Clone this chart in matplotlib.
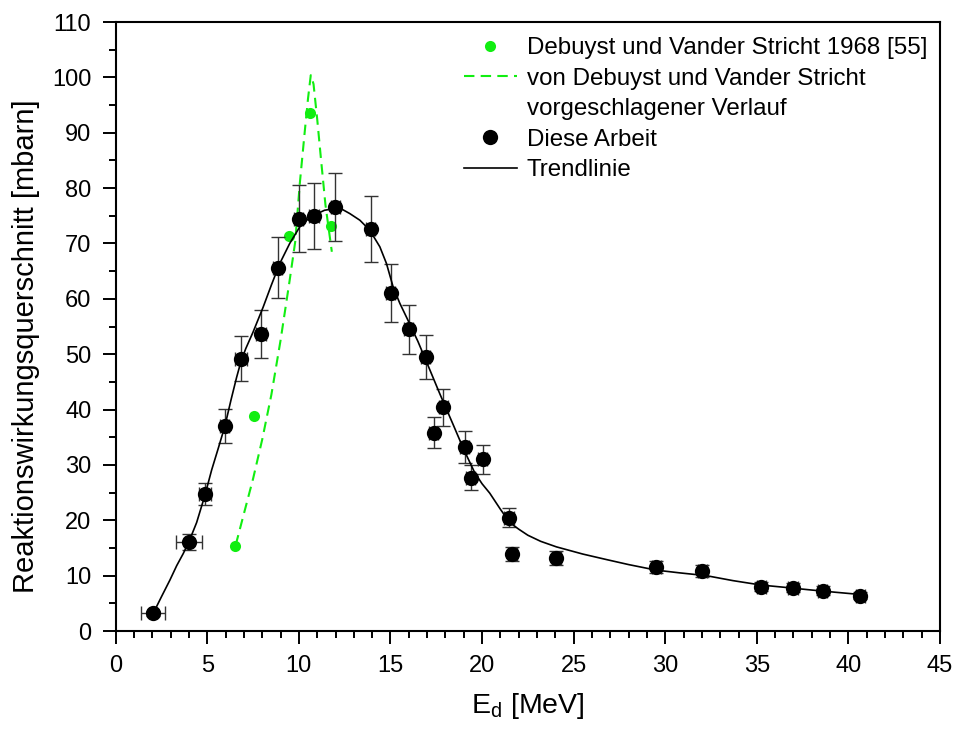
import matplotlib
matplotlib.use("Agg")
import matplotlib.pyplot as plt
from matplotlib.ticker import MultipleLocator
from matplotlib.lines import Line2D

plt.rcParams['font.family'] = ['Liberation Sans', 'DejaVu Sans']

# --- Data: this work (Diese Arbeit) ---
e_this = [2.05, 4.02, 4.87, 5.96, 6.84, 7.93, 8.84, 10.0, 10.83, 11.98, 13.93,
          15.02, 16.0, 16.93, 17.89, 17.35, 19.06, 20.04, 19.37, 21.47, 21.66,
          24.06, 29.51, 32.02, 35.24, 36.97, 38.6, 40.64]
sigma_this = [3.2, 16.1, 24.7, 37.0, 49.2, 53.7, 65.6, 74.5, 75.0, 76.6, 72.6,
              61.1, 54.5, 49.5, 40.4, 35.8, 33.3, 31.0, 27.7, 20.5, 13.9,
              13.2, 11.6, 10.8, 8.0, 7.8, 7.3, 6.4]
sigma_err = [0.4, 1.4, 2.0, 3.1, 4.0, 4.3, 5.5, 6.0, 6.0, 6.2, 5.9,
             5.2, 4.4, 3.9, 3.4, 2.8, 2.9, 2.6, 2.3, 1.7, 1.3,
             1.2, 1.1, 1.1, 0.8, 0.8, 0.8, 0.7]
e_err = [0.66, 0.7, 0.33, 0.25, 0.33, 0.25, 0.25, 0.25, 0.25, 0.25, 0.25,
         0.25, 0.25, 0.25, 0.25, 0.25, 0.25, 0.25, 0.25, 0.25, 0.25,
         0.25, 0.25, 0.25, 0.25, 0.25, 0.25, 0.25]

# --- Trendline ---
e_trend = [2.05, 2.5, 2.96, 3.33, 3.69, 4.02, 4.42, 4.87, 5.24, 5.6, 5.96, 6.3,
           6.6, 6.84, 7.1, 7.5, 8.05, 8.5, 8.96, 9.5, 10.05, 10.5, 10.88, 11.4,
           11.96, 12.4, 12.78, 13.33, 13.87, 14.42, 14.78, 15.15, 15.51, 15.96,
           16.5, 16.97, 17.7, 18.42, 19.0, 19.6, 20.0, 20.42, 21.0, 21.51, 22.0,
           22.5, 23.2, 24.06, 25.5, 26.8, 28.0, 29.5, 30.8, 32.24, 33.7, 35.24,
           36.5, 38.0, 39.3, 40.64]
sigma_trend = [3.2, 6.2, 9.2, 11.8, 14.0, 16.3, 19.6, 24.5, 29.1, 33.0, 37.0, 41.8,
               45.8, 48.7, 51.0, 54.0, 58.5, 62.5, 66.4, 70.0, 73.0, 74.4, 75.2, 76.0,
               76.3, 76.1, 75.4, 74.2, 72.4, 69.4, 66.4, 62.1, 59.2, 56.1,
               52.3, 48.6, 42.8, 37.3, 32.8, 28.6, 26.6, 24.9, 22.0, 19.6, 18.4,
               17.3, 16.2, 15.2, 13.9, 12.9, 12.0, 11.0, 10.5, 10.0, 9.1, 8.3,
               7.9, 7.4, 7.0, 6.6]

# --- Debuyst und Vander Stricht 1968 ---
e_deb = [6.52, 7.53, 9.45, 10.6, 11.75]
sigma_deb = [15.3, 38.9, 71.3, 93.5, 73.1]

# --- proposed curve (Debuyst und Vander Stricht) ---
e_prop = [6.55, 7.0, 7.5, 8.0, 8.5, 9.0, 9.5, 9.8, 10.05, 10.3, 10.5, 10.65,
          10.8, 11.0, 11.2, 11.45, 11.8]
sigma_prop = [15.5, 21.2, 27.5, 34.6, 42.7, 52.5, 63.4, 70.3, 80.8, 89.5, 96.2, 100.4,
              98.8, 92.5, 85.5, 77.0, 68.5]

legend_labels = ['Debuyst und Vander Stricht 1968 [55]',
                 'von Debuyst und Vander Stricht',
                 'vorgeschlagener Verlauf',
                 'Diese Arbeit',
                 'Trendlinie']

green = '#11ee11'

fig = plt.figure(figsize=(9.56, 7.29), dpi=100)
ax = fig.add_axes([0.121, 0.1344, 0.8623, 0.8354])

l_prop, = ax.plot(e_prop, sigma_prop, color=green, lw=1.5, dashes=(5, 3), zorder=2)
l_deb, = ax.plot(e_deb, sigma_deb, 'o', color=green, ms=8, mec='none', zorder=3)

ax.errorbar(e_this, sigma_this, yerr=sigma_err, xerr=e_err, fmt='none',
            ecolor='#333333', elinewidth=1.0, capsize=4.8, capthick=1.0, zorder=4)
l_trend, = ax.plot(e_trend, sigma_trend, '-', color='black', lw=1.2, zorder=5)
l_this, = ax.plot(e_this, sigma_this, 'o', color='black', ms=11, mec='none', zorder=6)

ax.set_xlim(0, 45)
ax.set_ylim(0, 110)
ax.xaxis.set_major_locator(MultipleLocator(5))
ax.xaxis.set_minor_locator(MultipleLocator(1))
ax.yaxis.set_major_locator(MultipleLocator(10))
ax.yaxis.set_minor_locator(MultipleLocator(5))
ax.tick_params(which='major', direction='out', length=9.5, width=1.4, labelsize=17, pad=8)
ax.tick_params(which='minor', direction='out', length=5, width=1.4)
for s in ax.spines.values():
    s.set_linewidth(1.5)

ax.set_xlabel('E$_\\mathregular{d}$ [MeV]', fontsize=20.5, labelpad=10)
ax.set_ylabel('Reaktionswirkungsquerschnitt [mbarn]', fontsize=21)
ax.yaxis.set_label_coords(-0.092, 0.468)

blank = Line2D([], [], linestyle='none', marker=None)
ax.legend([l_deb, l_prop, blank, l_this, l_trend], legend_labels,
          loc='upper right', frameon=False, fontsize=17.4, handlelength=2.2,
          handletextpad=0.41, labelspacing=0.35, borderaxespad=0, borderpad=0,
          bbox_to_anchor=(0.9843, 0.975))

fig.savefig('out.png', dpi=100)
